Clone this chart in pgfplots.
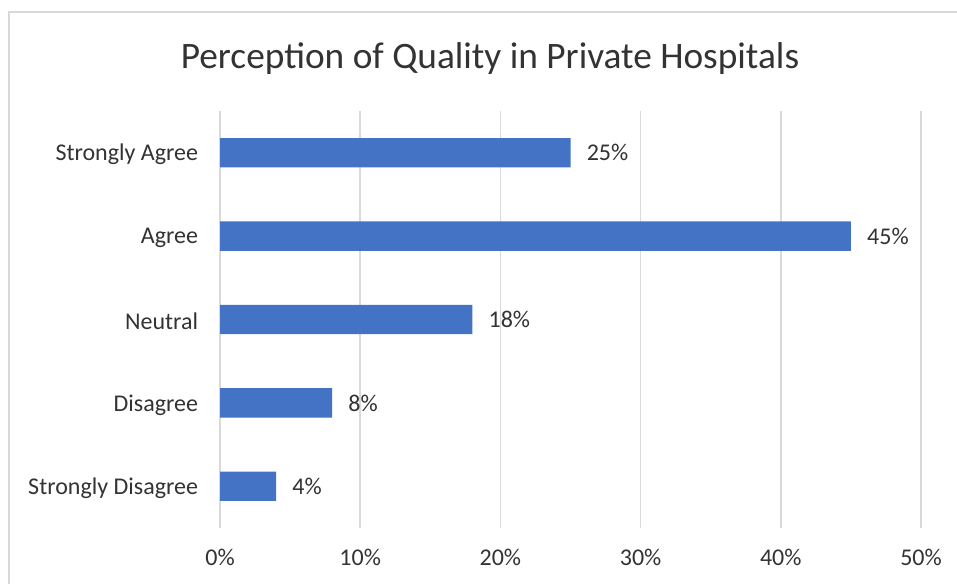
\documentclass[border=0pt]{standalone}
\usepackage{pgfplots}
\pgfplotsset{compat=1.18}
\usepackage{fontspec}
\setmainfont{Carlito}
\definecolor{barblue}{HTML}{4472C4}
\definecolor{gridgray}{HTML}{D9D9D9}
\definecolor{txt}{HTML}{333333}
\begin{document}
\begin{tikzpicture}
\useasboundingbox (0,0) rectangle (717.75pt,437.25pt);
\fill[white] (0,0) rectangle (717.75pt,437.25pt);
\draw[gridgray, line width=1.5pt] (6.75pt,-5pt) -- (6.75pt,428.25pt) -- (730pt,428.25pt);
\node[txt, font=\fontsize{28}{32}\selectfont] at (367.5pt,393pt) {Perception of Quality in Private Hospitals};
\begin{axis}[
  at={(165pt,41.25pt)}, anchor=south west,
  scale only axis, width=525.75pt, height=312.75pt,
  xbar, bar width=22pt,
  xmin=0, xmax=50, ymin=-0.5, ymax=4.5,
  xtick={0,10,20,30,40,50},
  xticklabel={\pgfmathprintnumber{\tick}\%},
  ytick={0,1,2,3,4},
  yticklabels={Strongly Disagree, Disagree, Neutral, Agree, Strongly Agree},
  /pgf/number format/assume math mode=true,
  xmajorgrids,
  major grid style={draw=gridgray, line width=1.3pt},
  axis line style={draw=none},
  tick style={draw=none},
  ticklabel style={txt, font=\fontsize{18}{21}\selectfont, inner sep=0pt},
  xticklabel style={anchor=center, yshift=-21.75pt},
  yticklabel style={anchor=east, xshift=-12pt, yshift=-1.5pt},
  point meta=x,
  nodes near coords={\pgfmathprintnumber{\pgfplotspointmeta}\%},
  nodes near coords style={txt, font=\fontsize{18}{21}\selectfont, anchor=west, inner sep=0pt, xshift=12pt},
  clip=false,
]
\addplot[fill=barblue, draw=none] coordinates {(4,0) (8,1) (18,2) (45,3) (25,4)};
\end{axis}
\end{tikzpicture}
\end{document}
